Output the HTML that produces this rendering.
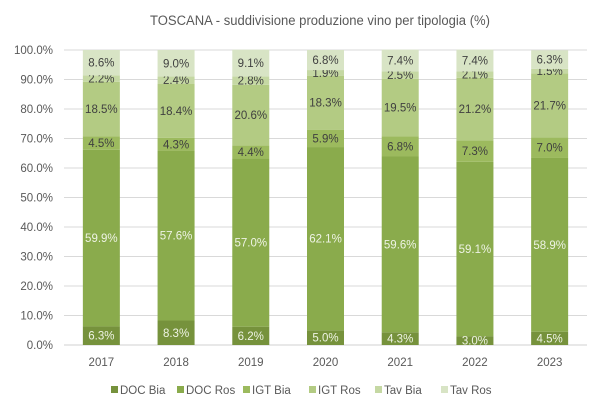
<!DOCTYPE html>
<html><head><meta charset="utf-8"><style>
body{margin:0;background:#fff}
svg{display:block;font-family:"Liberation Sans",sans-serif}
</style></head><body>
<svg id="c" width="602" height="411" xmlns="http://www.w3.org/2000/svg">
<rect width="602" height="411" fill="#fff"/>
<text x="320" y="25" text-anchor="middle" font-size="13.5" textLength="340" lengthAdjust="spacingAndGlyphs" fill="#595959">TOSCANA - suddivisione produzione  vino per tipologia (%)</text>
</svg>
<script>
const s=document.getElementById('c');const NS='http://www.w3.org/2000/svg';
function el(t,a,txt){const e=document.createElementNS(NS,t);for(const k in a)e.setAttribute(k,a[k]);if(txt!==undefined)e.textContent=txt;s.appendChild(e);return e;}
const y0=345,ph=295,x0=64,x1=587;
for(let i=0;i<=10;i++){const y=y0-ph*i/10;
el('line',{x1:x0,x2:x1,y1:y,y2:y,stroke:i==0?'#d0d0d0':'#d9d9d9','stroke-width':1});
el('text',{x:53,y:y+4,'text-anchor':'end','font-size':11.5,fill:'#595959'},(i*10).toFixed(1)+'%');}
const cols=['#76923c','#8aab4c','#9cba5e','#b3cb83','#c5d8a3','#d8e4c5'];
const tc=['#eef3e4','#eef3e4','#404040','#404040','#404040','#404040'];
const d=[[6.3,59.9,4.5,18.5,2.2,8.6],[8.3,57.6,4.3,18.4,2.4,9.0],[6.2,57.0,4.4,20.6,2.8,9.1],[5.0,62.1,5.9,18.3,1.9,6.8],[4.3,59.6,6.8,19.5,2.5,7.4],[3.0,59.1,7.3,21.2,2.1,7.4],[4.5,58.9,7.0,21.7,1.5,6.3]];
const step=(x1-x0)/7;
d.forEach((r,i)=>{const cx=x0+step*(i+0.5);let acc=0;
r.forEach((v,j)=>{const yt=y0-ph*(acc+v)/100,yb=y0-ph*acc/100;
el('rect',{x:cx-18.5,y:yt,width:37,height:yb-yt,fill:cols[j]});
el('text',{x:cx,y:(yt+yb)/2+4,'text-anchor':'middle','font-size':11.5,fill:tc[j]},v.toFixed(1)+'%');acc+=v;});
el('text',{x:cx,y:366,'text-anchor':'middle','font-size':11.5,fill:'#595959'},String(2017+i));});
const names=['DOC Bia','DOC Ros','IGT Bia','IGT Ros','Tav Bia','Tav Ros'];
names.forEach((n,j)=>{const x=114+j*66;
el('rect',{x:x-3,y:386,width:7,height:7,fill:cols[j]});
el('text',{x:x+6,y:394,'font-size':11.5,fill:'#595959'},n);});
</script>
</body></html>
